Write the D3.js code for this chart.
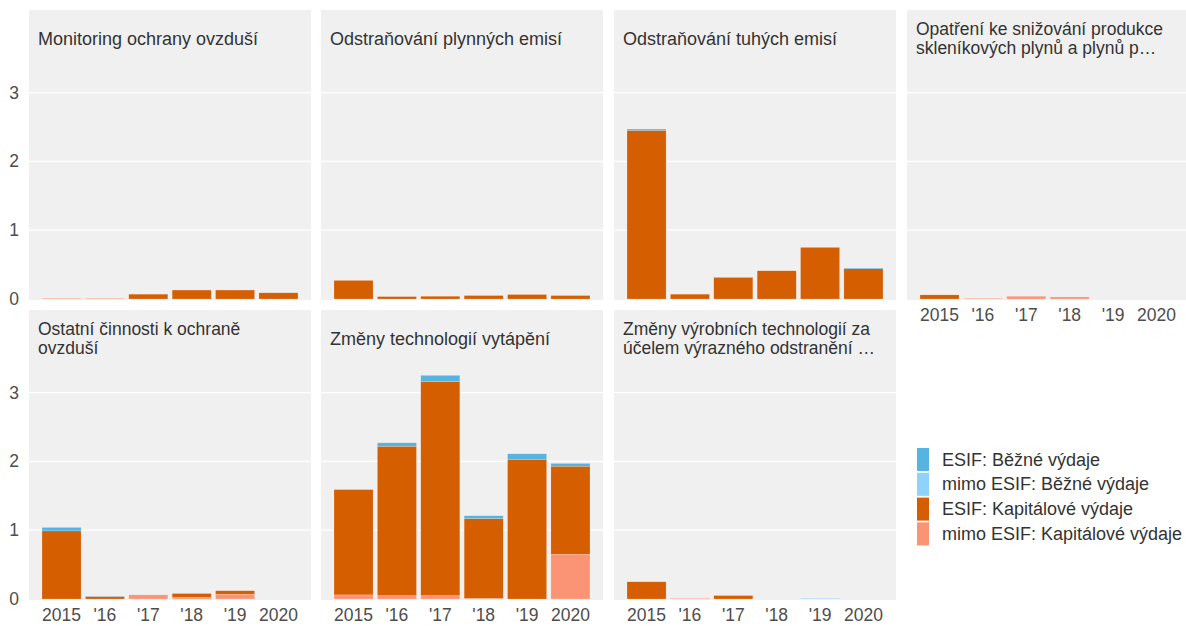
<!DOCTYPE html>
<html><head><meta charset="utf-8">
<script src="https://cdn.jsdelivr.net/npm/d3@7"></script>
<style>
html,body{margin:0;padding:0;background:#fff;}
text{font-family:"Liberation Sans",Arial,sans-serif;}
</style></head>
<body><svg id="chart" width="1186" height="626"></svg>
<script>
const years = ["2015","2016","2017","2018","2019","2020"];
const yearLabels = ["2015","'16","'17","'18","'19","2020"];
const categories = [
  ["Monitoring ochrany ovzduší"],
  ["Odstraňování plynných emisí"],
  ["Odstraňování tuhých emisí"],
  ["Opatření ke snižování produkce","skleníkových plynů a plynů p…"],
  ["Ostatní činnosti k ochraně","ovzduší"],
  ["Změny technologií vytápění"],
  ["Změny výrobních technologií za","účelem výrazného odstranění …"]
];
const seriesNames = ["mimo ESIF: Kapitálové výdaje","ESIF: Kapitálové výdaje","mimo ESIF: Běžné výdaje","ESIF: Běžné výdaje"];
const seriesColors = ["#fb9474","#d55e00","#8dd3fb","#56b4e0"];
// values per category (rows) and year (columns)
const mimoKapitalove = [
  [0.01,0.01,0,0,0,0],
  [0,0,0,0,0,0],
  [0,0,0,0,0,0],
  [0,0.01,0.04,0.03,0,0],
  [0,0,0.06,0.025,0.07,0],
  [0.06,0.05,0.05,0.01,0,0.65],
  [0,0.01,0,0,0,0]
];
const esifKapitalove = [
  [0,0,0.07,0.13,0.13,0.09],
  [0.27,0.035,0.04,0.05,0.065,0.05],
  [2.45,0.07,0.31,0.41,0.75,0.44],
  [0.06,0,0,0,0,0],
  [0.99,0.035,0,0.055,0.05,0],
  [1.53,2.17,3.11,1.16,2.03,1.28],
  [0.25,0,0.05,0,0,0]
];
const mimoBezne = [
  [0,0,0,0,0,0],
  [0,0,0,0,0,0],
  [0,0,0,0,0,0],
  [0,0,0,0,0,0],
  [0,0,0,0,0,0],
  [0,0,0,0,0,0],
  [0,0,0,0,0.01,0]
];
const esifBezne = [
  [0,0,0,0,0,0],
  [0,0,0,0,0,0],
  [0.02,0,0.01,0,0,0.01],
  [0,0,0,0,0,0],
  [0.05,0.005,0,0,0,0],
  [0,0.05,0.09,0.04,0.08,0.04],
  [0,0,0,0,0,0]
];
const yTicks = [0,1,2,3];

const seriesData = [mimoKapitalove, esifKapitalove, mimoBezne, esifBezne];
const svg = d3.select("#chart");
const colX = [29, 321, 614, 907];
const rowY = [10, 310];
const pw = 282, ph = 290;

categories.forEach((title, ci) => {
  const col = ci % 4, row = Math.floor(ci / 4);
  const x0 = colX[col], y0 = rowY[row];
  const g = svg.append("g");
  g.append("rect").attr("x", x0).attr("y", y0).attr("width", pw).attr("height", ph).attr("fill", "#f0f0f0");
  const x = d3.scaleBand().domain(years).range([x0, x0 + pw]).paddingInner(0.1).paddingOuter(0.3);
  const y = d3.scaleLinear().domain([0, 4.2]).range([y0 + ph - 1, y0]);
  // grid
  g.selectAll("line.grid").data(yTicks.filter(t => t > 0)).enter().append("line")
    .attr("x1", x0).attr("x2", x0 + pw).attr("y1", d => y(d)).attr("y2", d => y(d))
    .attr("stroke", "#fff").attr("stroke-width", 1.2);
  // stacked bars
  const rows = years.map((yr, i) => {
    const o = {year: yr};
    seriesNames.forEach((s, si) => o[s] = seriesData[si][ci][i]);
    return o;
  });
  const stack = d3.stack().keys(seriesNames)(rows);
  stack.forEach((layer, si) => {
    g.selectAll(null).data(layer.filter(d => d[1] - d[0] > 0)).enter().append("rect")
      .attr("x", d => x(d.data.year)).attr("width", x.bandwidth())
      .attr("y", d => y(d[1])).attr("height", d => y(d[0]) - y(d[1]))
      .attr("fill", seriesColors[si]).attr("stroke", "#ffffff").attr("stroke-opacity", 0.35).attr("stroke-width", 0.5);
  });
  // title
  if (title.length === 1) {
    g.append("text").attr("x", x0 + 9).attr("y", y0 + 35).attr("fill", "#333").attr("font-size", "18px").text(title[0]);
  } else {
    g.append("text").attr("x", x0 + 9).attr("y", y0 + 25).attr("fill", "#333").attr("font-size", "17.5px").text(title[0]);
    g.append("text").attr("x", x0 + 9).attr("y", y0 + 44).attr("fill", "#333").attr("font-size", "17.5px").text(title[1]);
  }
  // y axis labels (left column)
  if (col === 0) {
    const ya = d3.axisLeft(y).tickValues(yTicks).tickSize(0).tickPadding(10).tickFormat(d3.format("d"));
    const ag = g.append("g").attr("transform", `translate(${x0},0)`).call(ya);
    ag.select(".domain").remove();
    ag.selectAll("text").attr("fill", "#4d4d4d").attr("font-size", "17.5px").attr("font-family", "Liberation Sans, Arial, sans-serif");
  }
  // x axis labels (bottom row, or top row panel without panel below)
  if (row === 1 || ci === 3) {
    const xa = d3.axisBottom(x).tickSize(0).tickPadding(9).tickFormat((d, i) => yearLabels[i]);
    const ag = g.append("g").attr("transform", `translate(0,${y0 + ph})`).call(xa);
    ag.select(".domain").remove();
    ag.selectAll("text").attr("fill", "#4d4d4d").attr("font-size", "17.5px").attr("font-family", "Liberation Sans, Arial, sans-serif");
  }
});

// legend
const legendOrder = [3, 2, 1, 0];
const lg = svg.append("g");
legendOrder.forEach((si, k) => {
  const ly = 448 + k * 24.8;
  lg.append("rect").attr("x", 917).attr("y", ly).attr("width", 12).attr("height", 23).attr("fill", seriesColors[si]);
  lg.append("text").attr("x", 942).attr("y", ly + 17.5).attr("fill", "#333").attr("font-size", "18px").text(seriesNames[si]);
});
</script></body></html>
